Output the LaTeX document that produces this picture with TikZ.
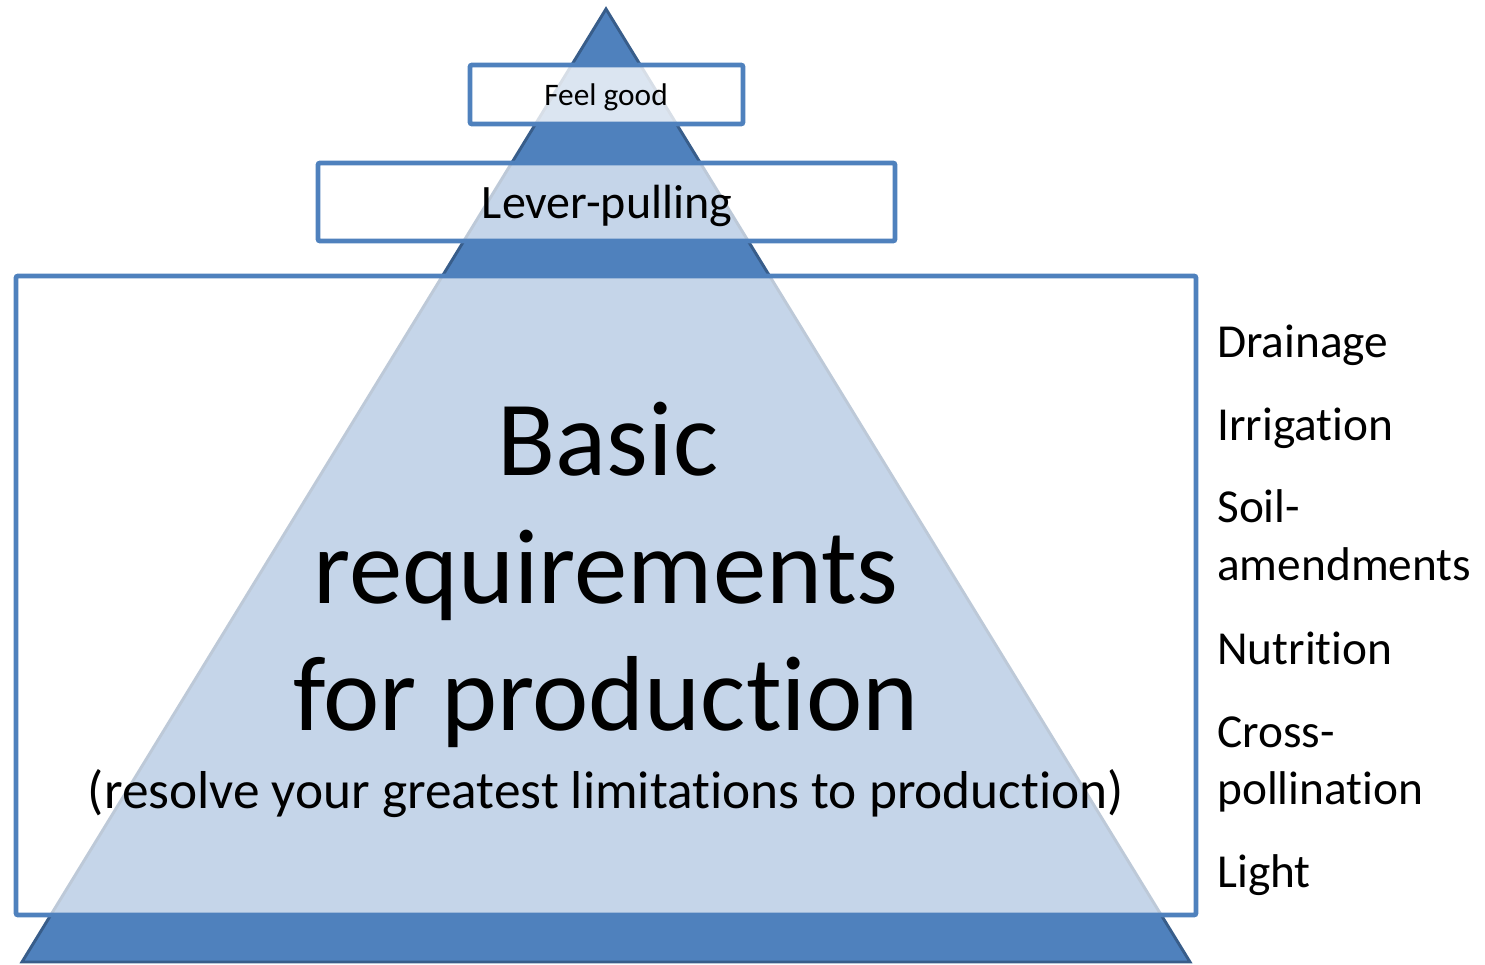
\documentclass[tikz,border=0pt]{standalone}
\usepackage{fontspec}
\setmainfont{Carlito}[Ligatures={NoCommon}]
\definecolor{pyrfill}{HTML}{4F81BD}
\definecolor{pyrline}{HTML}{385D8A}
\definecolor{boxline}{HTML}{4F81BD}
\tikzset{
  pyramid/.style={fill=pyrfill, draw=pyrline, line width=2.2pt, line join=miter},
  layerbox/.style={draw=boxline, line width=3.6pt, fill=white, fill opacity=0.67, rounded corners=1.5pt},
  toplayerbox/.style={layerbox, fill opacity=0.8},
  lbl/.style={inner sep=0pt, text=black},
  sidelbl/.style={lbl, anchor=base west, font=\fontsize{35.5}{43}\selectfont},
  titlelbl/.style={lbl, anchor=base, font=\fontsize{80}{96}\selectfont},
}
\begin{document}
\begin{tikzpicture}[x=0.75pt,y=-0.75pt]
\useasboundingbox (0,0) rectangle (1485,964);
% pyramid
\coordinate (apex) at (606,9);
\coordinate (bl) at (22,962);
\coordinate (br) at (1190,962);
\draw[pyramid] (apex) -- (br) -- (bl) -- cycle;
% layer boxes
\draw[layerbox] (16,276) rectangle (1196,915);
\draw[layerbox] (318,163) rectangle (895,241);
\draw[toplayerbox] (470,65) rectangle (743,124);
% texts
\node[lbl, anchor=base, font=\fontsize{23.5}{28}\selectfont] (feel) at (606,105) {Feel good};
\node[lbl, anchor=base, font=\fontsize{36}{44}\selectfont] (lever) at (607,218) {Lever-pulling};
\node[titlelbl] (t1) at (608,475) {Basic};
\node[titlelbl] (t2) at (606,603) {requirements};
\node[titlelbl] (t3) at (606,730) {for production};
\node[lbl, anchor=base, font=\fontsize{40}{48}\selectfont] (sub) at (606,808) {(resolve your greatest limitations to production)};
\node[sidelbl] (s1) at (1217,357) {Drainage};
\node[sidelbl] (s2) at (1217,440) {Irrigation};
\node[sidelbl] (s3a) at (1217,522) {Soil-};
\node[sidelbl] (s3b) at (1217,580) {amendments};
\node[sidelbl] (s4) at (1217,664) {Nutrition};
\node[sidelbl] (s5a) at (1217,747) {Cross-};
\node[sidelbl] (s5b) at (1217,804) {pollination};
\node[sidelbl] (s6) at (1217,887) {Light};
\end{tikzpicture}
\end{document}
